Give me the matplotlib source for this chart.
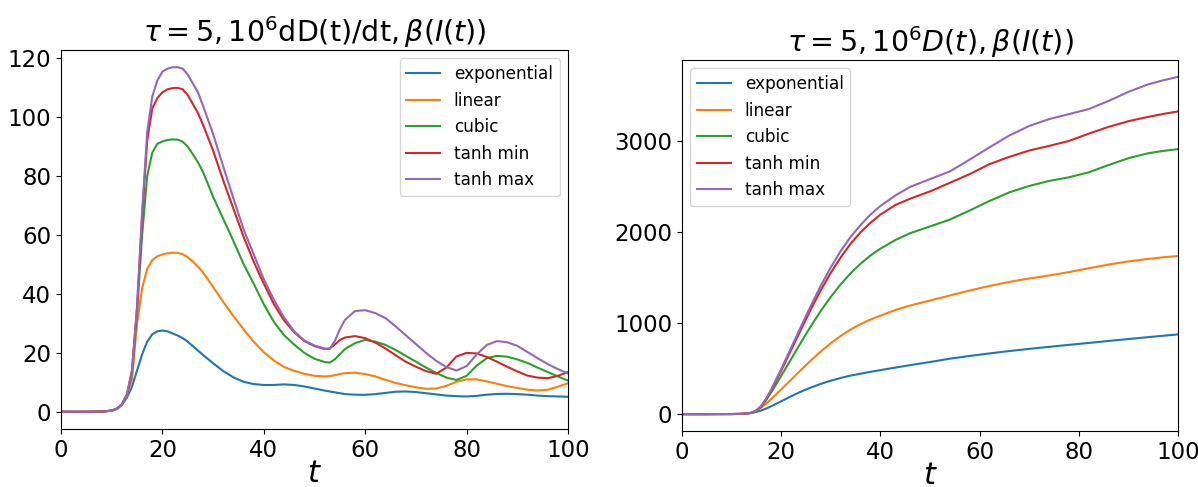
import matplotlib
matplotlib.use("Agg")
import matplotlib.pyplot as plt

labels = ["exponential", "linear", "cubic", "tanh min", "tanh max"]

# ---- left panel: 10^6 dD(t)/dt ----
t_left = [0, 5, 8, 10, 11, 12, 13, 14, 15, 16, 17, 18, 19, 20, 21, 22, 23, 24, 25, 26, 27, 28,
          30, 32, 34, 36, 38, 40, 42, 44, 46, 48, 50, 52, 53, 54, 55, 56, 58, 60, 62, 64, 66,
          68, 70, 72, 74, 76, 78, 80, 82, 84, 86, 88, 90, 92, 94, 96, 98, 100]
dexp = [0, 0, 0.05, 0.4, 1.0, 2.3, 4.8, 8.5, 14, 19.5, 23.8, 26.3, 27.3, 27.6, 27.3, 26.6, 25.9,
        25, 23.8, 22.3, 20.8, 19.3, 16.5, 13.8, 11.7, 10.2, 9.4, 9.1, 9.1, 9.3, 9.1, 8.6, 7.9,
        7.2, 6.9, 6.6, 6.3, 6.0, 5.8, 5.75, 6.0, 6.4, 6.8, 6.9, 6.7, 6.3, 5.9, 5.5, 5.3, 5.2,
        5.4, 5.8, 6.05, 6.1, 6.0, 5.8, 5.5, 5.3, 5.2, 5.1]
dlin = [0, 0, 0.05, 0.4, 1.0, 2.4, 5.5, 11, 30, 42, 48.5, 51.5, 52.8, 53.4, 53.8, 54, 54, 53.5,
        52.5, 51, 49.3, 47.3, 42.4, 37.3, 32.5, 28, 23.8, 20.2, 17.4, 15.2, 13.9, 12.9, 12.2,
        12, 12.1, 12.4, 12.8, 13.1, 13.3, 12.8, 12, 10.8, 9.8, 9, 8.3, 7.8, 7.9, 8.8, 10.2, 11,
        11, 10.3, 9.5, 8.7, 8.1, 7.5, 7.2, 7.5, 8.5, 9.7]
dcub = [0, 0, 0.05, 0.4, 1.0, 2.5, 5.8, 13, 34, 60, 80, 88, 91, 91.8, 92.3, 92.5, 92.4, 91.7,
        90, 87.5, 84.7, 81.5, 73, 65.5, 58, 50.2, 43.5, 36.5, 30.5, 26, 22.8, 20, 18, 16.9,
        16.7, 17.8, 19.5, 21.3, 23.3, 24.4, 23.8, 22.7, 21, 19, 17, 15, 13.2, 11.6, 10.8, 12.2,
        15.7, 18.2, 19, 18.7, 17.8, 16.6, 15, 13.5, 12, 10.6]
dtmin = [0, 0, 0.05, 0.4, 1.0, 2.5, 5.8, 14, 35, 66, 92, 103, 106.5, 108.5, 109.5, 109.9, 110,
         109.5, 107.5, 104.5, 101.5, 97.5, 88.7, 78.5, 69, 59.5, 51, 43.5, 36.5, 31, 27, 24,
         22.3, 21.3, 21.5, 22.8, 24.4, 25.2, 25.7, 25, 23.5, 21.5, 19.2, 17, 15.3, 13.8, 12.9,
         15, 18.8, 20, 19.8, 18.6, 17, 15.3, 13.7, 12.3, 11.6, 11.4, 12.2, 13.5]
dtmax = [0, 0, 0.05, 0.4, 1.0, 2.5, 5.8, 14, 36, 68, 95, 107, 112.5, 115.5, 116.5, 117, 117,
         116.5, 114.5, 111.5, 108.5, 104, 94.3, 83.3, 72.5, 62, 53.5, 45, 38, 32, 27.3, 24.2,
         22.5, 21.5, 21.3, 24, 28, 31.2, 34.2, 34.5, 33.5, 31.8, 29, 26, 23, 20, 17.3, 15.2,
         14, 15.5, 19.5, 22.7, 24, 23.6, 22.4, 20.3, 18.2, 16.2, 14.5, 13]

# ---- right panel: 10^6 D(t) ----
t_right = [0, 5, 10, 12, 13, 14, 15, 16, 17, 18, 19, 20, 22, 24, 26, 28, 30, 32, 34, 36, 38, 40,
           43, 46, 50, 54, 58, 62, 66, 70, 74, 78, 82, 86, 90, 94, 97, 100]
Dexp = [0, 0, 1, 3, 6, 13, 24, 41, 62, 87, 114, 141, 196, 248, 293, 333, 368, 398, 424, 445, 465,
        484, 512, 539, 573, 610, 640, 668, 694, 718, 740, 762, 783, 805, 826, 847, 862, 877]
Dlin = [0, 0, 1, 3, 7, 15, 36, 72, 117, 167, 219, 272, 379, 487, 592, 690, 780, 860, 931, 990,
        1040, 1083, 1145, 1195, 1250, 1305, 1360, 1410, 1455, 1492, 1525, 1562, 1605, 1645,
        1680, 1707, 1725, 1740]
Dcub = [0, 0, 1, 3, 7, 15, 38, 85, 156, 241, 330, 421, 605, 790, 970, 1137, 1290, 1428, 1550,
        1655, 1745, 1820, 1915, 1990, 2065, 2140, 2240, 2345, 2440, 2510, 2565, 2605, 2660,
        2740, 2815, 2870, 2895, 2915]
Dtmin = [0, 0, 1, 3, 7, 15, 40, 90, 168, 265, 372, 478, 705, 932, 1155, 1365, 1555, 1725, 1875,
         2000, 2105, 2195, 2300, 2370, 2450, 2545, 2640, 2750, 2830, 2900, 2950, 3005, 3085,
         3160, 3222, 3270, 3302, 3330]
Dtmax = [0, 0, 1, 3, 7, 15, 40, 91, 172, 273, 385, 496, 730, 965, 1195, 1415, 1615, 1795, 1950,
         2080, 2195, 2290, 2405, 2500, 2585, 2670, 2800, 2935, 3065, 3170, 3245, 3300, 3355,
         3445, 3545, 3628, 3672, 3710]

W, H = 1198, 487
fig = plt.figure(figsize=(W / 100, H / 100), dpi=100)

def box(x0, y0, x1, y1):
    return [x0 / W, 1 - y1 / H, (x1 - x0) / W, (y1 - y0) / H]

ax1 = fig.add_axes(box(61, 50, 568, 429))
ax2 = fig.add_axes(box(682, 60, 1178, 431))

for ys, lab in zip([dexp, dlin, dcub, dtmin, dtmax], labels):
    ax1.plot(t_left, ys, label=lab, lw=1.5)
for ys, lab in zip([Dexp, Dlin, Dcub, Dtmin, Dtmax], labels):
    ax2.plot(t_right, ys, label=lab, lw=1.5)

ax1.set_title(r"$\tau=5, 10^6$dD(t)/dt$, \beta(I(t))$", fontsize=20.5, pad=5)
ax2.set_title(r"$\tau=5, 10^6D(t), \beta(I(t))$", fontsize=20.5, pad=5)

for ax in (ax1, ax2):
    ax.set_xlim(0, 100)
    ax.set_xticks([0, 20, 40, 60, 80, 100])
    ax.tick_params(labelsize=16.5)
    ax.set_xlabel(r"$t$", fontsize=22, labelpad=-2)

ax2.set_yticks([0, 1000, 2000, 3000])
ax1.legend(loc="upper right", fontsize=12.2)
ax2.legend(loc="upper left", fontsize=12.2)

fig.savefig("out.png", dpi=100)
